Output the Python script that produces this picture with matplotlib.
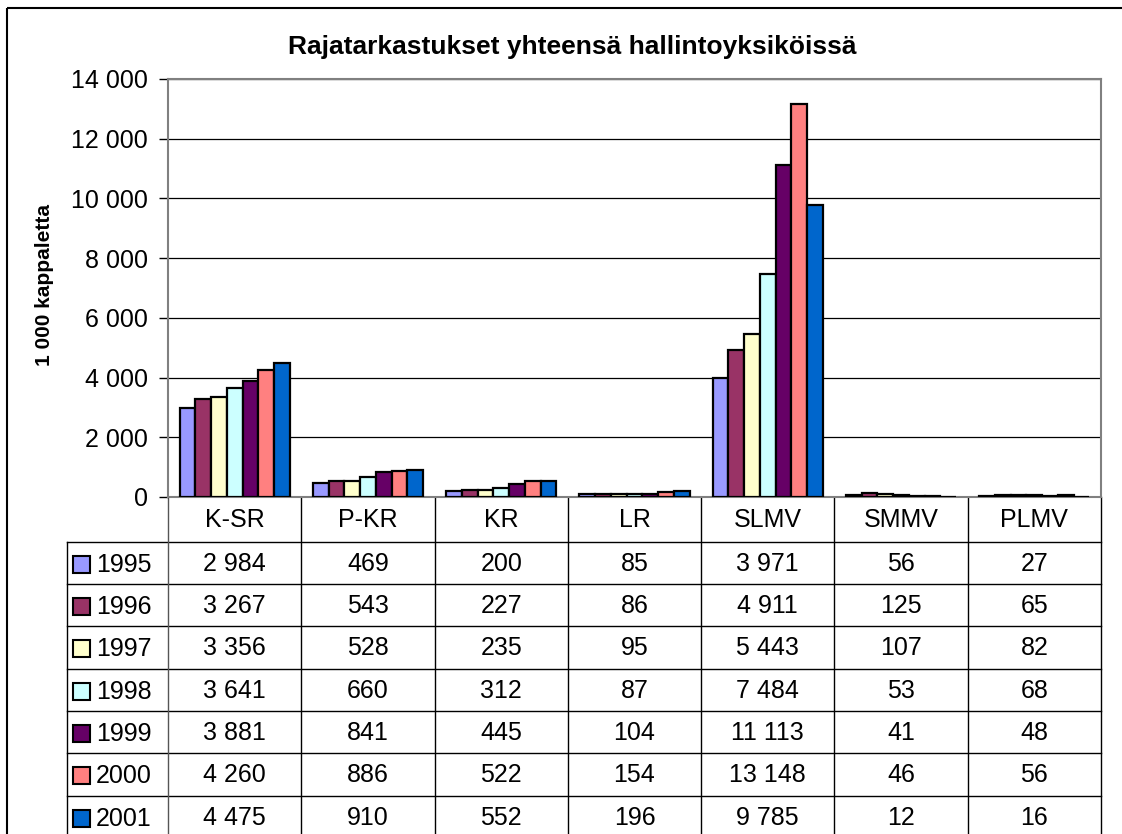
import numpy as np
import matplotlib
matplotlib.use("Agg")
import matplotlib.pyplot as plt
from matplotlib.patches import Rectangle

plt.rcParams['font.family'] = ['Liberation Sans', 'DejaVu Sans']

units = ["K-SR", "P-KR", "KR", "LR", "SLMV", "SMMV", "PLMV"]
years = ["1995", "1996", "1997", "1998", "1999", "2000", "2001"]
v1995 = [2984, 469, 200, 85, 3971, 56, 27]
v1996 = [3267, 543, 227, 86, 4911, 125, 65]
v1997 = [3356, 528, 235, 95, 5443, 107, 82]
v1998 = [3641, 660, 312, 87, 7484, 53, 68]
v1999 = [3881, 841, 445, 104, 11113, 41, 48]
v2000 = [4260, 886, 522, 154, 13148, 46, 56]
v2001 = [4475, 910, 552, 196, 9785, 12, 16]
series = [v1995, v1996, v1997, v1998, v1999, v2000, v2001]
colors = ["#9999FF", "#993366", "#FFFFCC", "#CCFFFF", "#660066", "#FF8080", "#0066CC"]


def fmt(v):
    return f"{v:,}".replace(",", " ")


W, H = 1122, 834
fig = plt.figure(figsize=(W / 100, H / 100), dpi=100)

# plot area in pixels
left, right, top, bottom = 168, 1101, 79, 497
ax = fig.add_axes([left / W, 1 - bottom / H, (right - left) / W, (bottom - top) / H])

x = np.arange(len(units))
bw = 0.118
for i, vals in enumerate(series):
    ax.bar(x + (i - 3) * bw, vals, bw, color=colors[i], edgecolor="black",
           linewidth=1.6, zorder=3)

ax.set_xlim(-0.5, len(units) - 0.5)
ax.set_ylim(0, 14000)
ax.set_yticks(range(0, 14001, 2000))
ax.set_yticklabels([fmt(t) for t in range(0, 14001, 2000)])
ax.tick_params(axis="y", labelsize=18, length=6.5, width=1, pad=8)
ax.tick_params(axis="x", length=0, labelbottom=False)
ax.yaxis.grid(True, color="black", linewidth=0.9)
ax.set_axisbelow(True)
for s in ax.spines.values():
    s.set_color("#808080")
    s.set_linewidth(1.5)

fig.text(572 / W, 1 - 47 / H, "Rajatarkastukset yhteensä hallintoyksiköissä",
         ha="center", va="center", fontsize=19, fontweight="bold")
fig.text(45 / W, 1 - 285 / H, "1 000 kappaletta", rotation=90,
         ha="center", va="center", fontsize=15, fontweight="bold")

# data table below the plot
ov = fig.add_axes([0, 0, 1, 1], zorder=-1)
ov.set_xlim(0, W)
ov.set_ylim(H, 0)
ov.axis("off")

colw = (right - left) / len(units)
leg_left = 67
head_bot = 541.7
rowh = 42.3
tbl_bot = head_bot + rowh * len(years)

for k in range(len(years) + 1):
    y = head_bot + k * rowh
    ov.plot([leg_left, right], [y, y], color="black", lw=1)
for j in range(len(units) + 1):
    xx = left + j * colw
    ov.plot([xx, xx], [bottom, tbl_bot], color="#555555" if j == 0 else "black", lw=1)
ov.plot([leg_left, leg_left], [head_bot, tbl_bot], color="black", lw=1)

for j, u in enumerate(units):
    ov.text(left + (j + 0.5) * colw, (bottom + head_bot) / 2 + 1, u,
            ha="center", va="center", fontsize=18)

for k, vals in enumerate(series):
    yc = head_bot + (k + 0.5) * rowh
    ov.add_patch(Rectangle((73, yc - 7), 17, 17, facecolor=colors[k],
                           edgecolor="black", lw=1.5))
    ov.text(96, yc + 2, years[k], ha="left", va="center", fontsize=18)
    for j, v in enumerate(vals):
        ov.text(left + (j + 0.5) * colw, yc + 1, fmt(v), ha="center",
                va="center", fontsize=18)

# chart area border
ov.add_patch(Rectangle((7, 8), 1300, 1000, facecolor="none", edgecolor="black", lw=1.5))

fig.savefig("out.png", dpi=100)
